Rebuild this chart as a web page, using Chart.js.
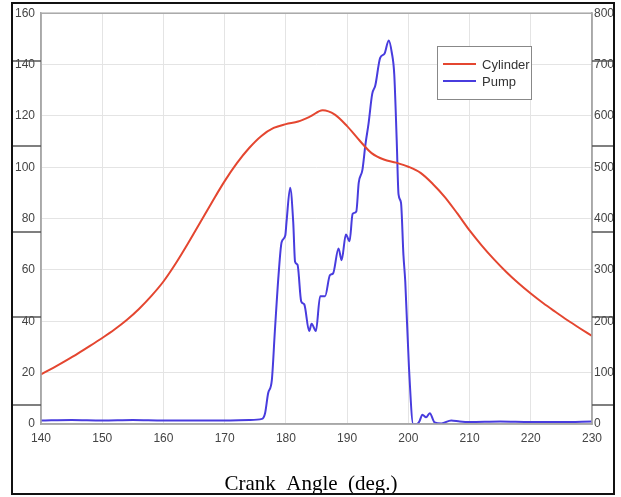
<!DOCTYPE html>
<html>
<head>
<meta charset="utf-8">
<script src="https://cdn.jsdelivr.net/npm/chart.js@4/dist/chart.umd.min.js"></script>
<style>
  html, body { margin: 0; padding: 0; background: #fff; }
  #wrap { position: relative; width: 621px; height: 497px; }
  #frame { position: absolute; left: 11px; top: 2px; width: 604px; height: 493px;
           box-sizing: border-box; border: 2px solid #111; pointer-events: none; }
</style>
</head>
<body>
<div id="wrap">
  <canvas id="myChart" width="621" height="497"></canvas>
  <div id="frame"></div>
</div>
<script>
// datos
const cylAngle = [140,142,144,146,148,150,152,154,156,158,160,162,164,166,168,170,172,174,176,178,
  180,182,184,186,188,190,192,194,196,198,200,202,204,206,208,210,212,214,216,218,220,222,224,226,228,230];
const cylValues = [19.3,21.9,24.6,27.4,30.4,33.5,36.8,40.5,44.8,49.8,55.5,62.5,70.3,78.5,86.7,94.6,101.6,107.5,112.2,115.3,
  116.8,117.8,119.8,122.2,120.5,116,110.5,105.5,103,101.8,100.2,97.8,93.5,88.3,82,75.4,69.5,64.1,59.2,54.8,50.8,47.1,43.7,40.4,37.3,34.3];

const pumpAngle = [140,145,150,155,160,165,170,174,176.1,176.6,177.1,177.7,178.2,178.8,179.3,179.9,180.1,180.7,181.2,181.5,
  181.9,182.5,183,183.8,184.2,184.9,185.6,186.4,187.2,187.7,188.6,189.1,189.8,190.4,190.9,191.5,191.9,192.5,193,193.5,
  194.1,194.6,195.4,196.1,196.8,197.3,197.7,198.1,198.4,198.8,199.2,199.5,200.1,200.8,201.4,201.8,202.3,202.9,203.5,204.3,
  205.4,207,208.4,210,215,220,225,230];
const pumpValues = [7,8,7,8,7,7,7,8,10,21,60,85,181,290,354,367,393,460,393,316,
  310,239,233,181,195,181,249,249,290,293,342,319,369,356,409,414,470,495,545,585,
  643,659,713,721,747,723,681,553,447,431,329,277,111,0,0,5,18,13,21,3,
  1,7,5,4,5,4,4,5];

const xTicks = [140,150,160,170,180,190,200,210,220,230];

const toPoints = (xs, ys) => xs.map((x, i) => ({x: x, y: ys[i]}));

const tickFont = {family: 'Liberation Sans, Arial, sans-serif', size: 12};

// marco del area, leyenda y titulo
const extras = {
  id: 'extras',
  afterDraw(chart) {
    const {ctx, chartArea: a} = chart;
    ctx.save();
    ctx.strokeStyle = '#a8a8a8';
    ctx.lineWidth = 1.5;
    ctx.strokeRect(a.left, a.top, a.right - a.left, a.bottom - a.top);

    // trazos laterales
    ctx.strokeStyle = '#555';
    ctx.lineWidth = 1.5;
    [61, 146, 232, 317, 405].forEach(y => {
      ctx.beginPath(); ctx.moveTo(11, y); ctx.lineTo(a.left, y); ctx.stroke();
      ctx.beginPath(); ctx.moveTo(a.right, y); ctx.lineTo(615, y); ctx.stroke();
    });

    // leyenda
    const lx = 437, ly = 46;
    ctx.fillStyle = '#fff';
    ctx.fillRect(lx, ly, 94, 53);
    ctx.strokeStyle = '#888';
    ctx.lineWidth = 1;
    ctx.strokeRect(lx + 0.5, ly + 0.5, 94, 53);
    ctx.font = '13px Liberation Sans, Arial, sans-serif';
    ctx.textBaseline = 'middle';
    chart.data.datasets.forEach((ds, i) => {
      const y = ly + 18 + i * 17;
      ctx.strokeStyle = ds.borderColor;
      ctx.lineWidth = 2;
      ctx.beginPath(); ctx.moveTo(lx + 6, y); ctx.lineTo(lx + 39, y); ctx.stroke();
      ctx.fillStyle = '#333';
      ctx.fillText(ds.label, lx + 45, y + 1);
    });

    // titulo del eje x
    ctx.fillStyle = '#000';
    ctx.font = '21px Liberation Serif, Times New Roman, serif';
    ctx.textAlign = 'center';
    ctx.textBaseline = 'alphabetic';
    ctx.fillText('Crank  Angle  (deg.)', 311, 490);
    ctx.restore();
  }
};

const ctx = document.getElementById('myChart');

const myChart = new Chart(ctx, {
  type: 'line',
  data: {
    datasets: [{
      label: 'Cylinder',
      data: toPoints(cylAngle, cylValues),
      yAxisID: 'yL',
      borderColor: 'rgb(228, 70, 48)',
      borderWidth: 2,
      pointRadius: 0,
      cubicInterpolationMode: 'monotone'
    }, {
      label: 'Pump',
      data: toPoints(pumpAngle, pumpValues),
      yAxisID: 'yR',
      borderColor: 'rgb(72, 60, 222)',
      borderWidth: 2,
      pointRadius: 0,
      cubicInterpolationMode: 'monotone'
    }]
  },
  options: {
    responsive: false,
    animation: false,
    layout: {padding: {top: 8, left: 0, right: 0, bottom: 0}},
    plugins: {legend: {display: false}, tooltip: {enabled: false}},
    scales: {
      x: {
        type: 'linear', min: 140, max: 230,
        afterBuildTicks: s => { s.ticks = xTicks.map(v => ({value: v})); },
        afterFit: s => { s.height = 73; },
        grid: {color: '#e4e4e4', drawTicks: false},
        border: {color: '#a8a8a8', width: 1.5},
        ticks: {font: tickFont, color: '#444', padding: 7, maxRotation: 0}
      },
      yL: {
        position: 'left', min: 0, max: 160,
        afterFit: s => { s.width = 41; },
        grid: {color: '#e4e4e4', drawTicks: false},
        border: {color: '#a8a8a8', width: 1.5},
        ticks: {stepSize: 20, font: tickFont, color: '#444', padding: 6}
      },
      yR: {
        position: 'right', min: 0, max: 800,
        afterFit: s => { s.width = 29; },
        grid: {drawOnChartArea: false, drawTicks: false},
        border: {color: '#a8a8a8', width: 1.5},
        ticks: {stepSize: 100, font: tickFont, color: '#444', padding: 2}
      }
    }
  },
  plugins: [extras]
});
</script>
</body>
</html>
